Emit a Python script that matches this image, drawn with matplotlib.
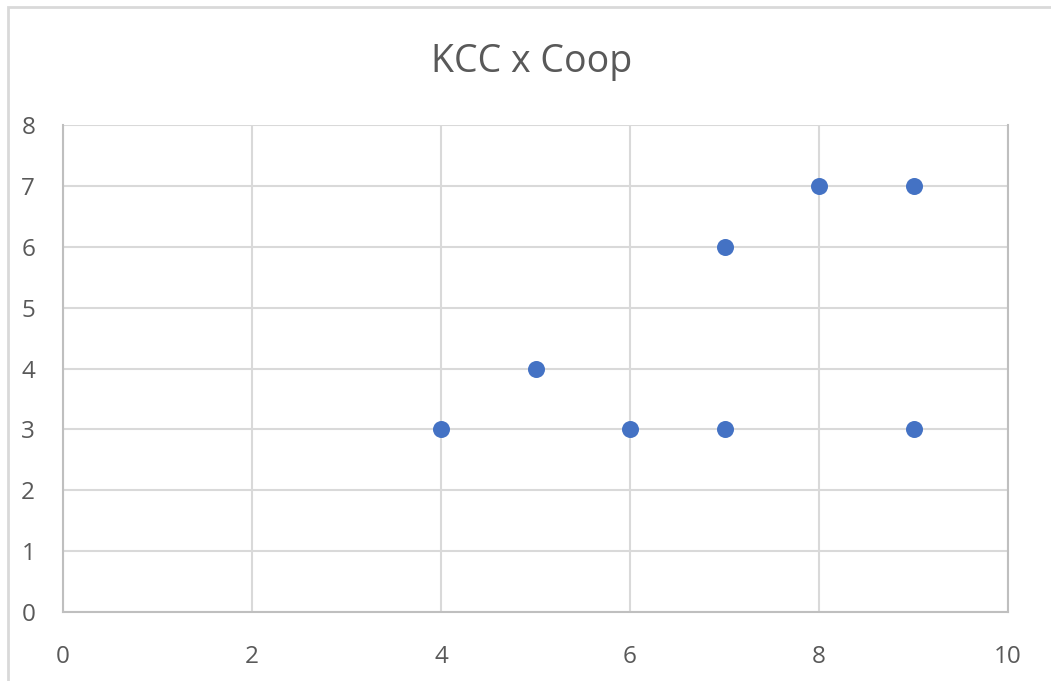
import matplotlib
matplotlib.use("Agg")
import matplotlib.pyplot as plt
from matplotlib.patches import Rectangle

# KCC score vs Coop score
kcc = [4, 5, 6, 7, 7, 8, 9, 9]
coop = [3, 4, 3, 6, 3, 7, 7, 3]
title = "KCC x Coop"

plt.rcParams['font.family'] = ['Open Sans', 'DejaVu Sans']

fig = plt.figure(figsize=(10.51, 6.81), dpi=100)
ax = fig.add_axes([63 / 1051, 69 / 681, 945 / 1051, 487 / 681])

# outer chart frame (only top and left visible)
fig.add_artist(Rectangle((8 / 1051, -0.1), 1.2, (681 - 7) / 681 + 0.1,
                         transform=fig.transFigure, fill=False,
                         edgecolor='#d9d9d9', linewidth=2))

ax.scatter(kcc, coop, s=150, color='#4472c4', zorder=3, linewidths=0)

ax.set_xlim(0, 10)
ax.set_ylim(0, 8)
ax.set_xticks(range(0, 11, 2))
ax.set_yticks(range(0, 9))
ax.grid(True, color='#d9d9d9', linewidth=1.5)
ax.set_axisbelow(True)
ax.spines['top'].set_visible(False)
for side in ['left', 'bottom', 'right']:
    ax.spines[side].set_color('#bfbfbf')
    ax.spines[side].set_linewidth(1.5)
ax.tick_params(length=0, labelsize=17.5, colors='#595959')
ax.tick_params(axis='x', pad=24)
ax.tick_params(axis='y', pad=20)

fig.text(532 / 1051, 1 - 62 / 681, title, ha='center', va='center',
         fontsize=27, color='#595959')

fig.savefig("out.png", dpi=100)
